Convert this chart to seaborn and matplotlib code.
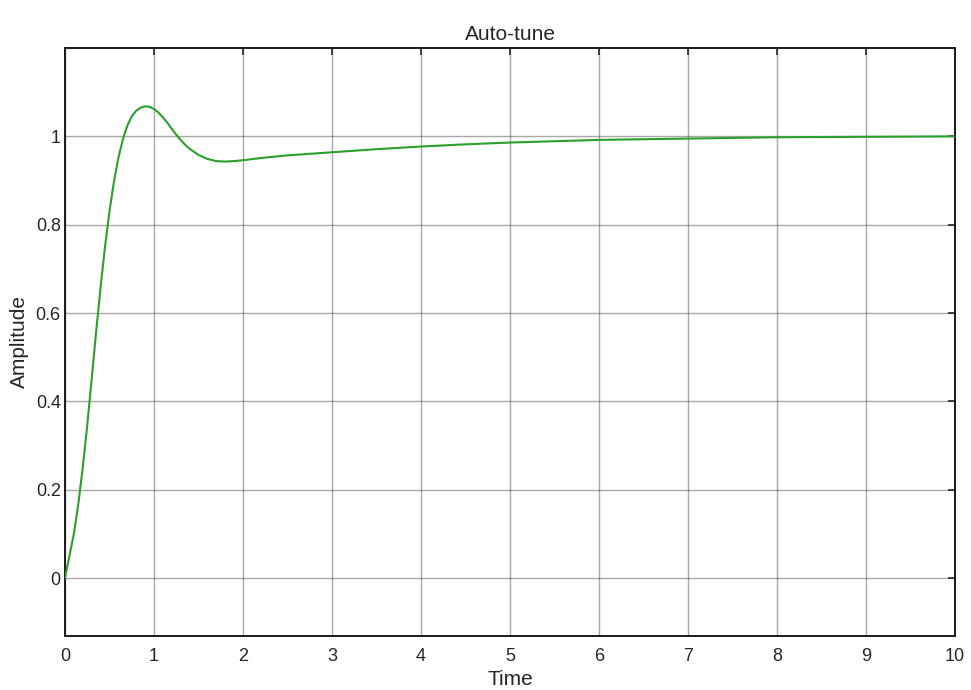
import matplotlib
matplotlib.use("Agg")
import matplotlib.pyplot as plt
import seaborn as sns
import pandas as pd

# Step response
time = [0, 0.05, 0.1, 0.15, 0.2, 0.25, 0.3, 0.35, 0.4, 0.45, 0.5, 0.55,
        0.6, 0.65, 0.7, 0.75, 0.8, 0.85, 0.9, 0.95, 1.0, 1.05, 1.1, 1.15,
        1.2, 1.25, 1.3, 1.35, 1.4, 1.5, 1.6, 1.7, 1.8, 1.9, 2.0, 2.25, 2.5,
        3.0, 3.5, 4.0, 4.5, 5.0, 5.5, 6.0, 7.0, 8.0, 9.0, 10.0]
amplitude = [0.0, 0.05, 0.1, 0.168, 0.25, 0.345, 0.45, 0.557, 0.658, 0.75,
             0.83, 0.897, 0.951, 0.993, 1.024, 1.045, 1.058, 1.065, 1.068,
             1.067, 1.062, 1.054, 1.043, 1.031, 1.017, 1.004, 0.992, 0.981,
             0.972, 0.958, 0.949, 0.944, 0.943, 0.944, 0.946, 0.952, 0.957,
             0.964, 0.971, 0.977, 0.982, 0.986, 0.989, 0.992, 0.995, 0.998,
             0.999, 1.0]
x_ticks = [0, 1, 2, 3, 4, 5, 6, 7, 8, 9, 10]
y_ticks = [0, 0.2, 0.4, 0.6, 0.8, 1.0]
y_tick_labels = ["0", "0.2", "0.4", "0.6", "0.8", "1"]

df = pd.DataFrame({"Time": time, "Amplitude": amplitude})

sns.set_style("white")
plt.rcParams["font.family"] = ["Liberation Sans", "DejaVu Sans"]

fig = plt.figure(figsize=(9.71, 6.90), dpi=100)
ax = fig.add_axes([0.0669, 0.0783, 0.9166, 0.8521])

sns.lineplot(data=df, x="Time", y="Amplitude", ax=ax, color="#2ca02c",
             linewidth=1.5, zorder=3)

ax.set_xlim(0, 10)
ax.set_ylim(-0.131, 1.2)
ax.set_xticks(x_ticks)
ax.set_xticklabels([str(v) for v in x_ticks])
ax.set_yticks(y_ticks)
ax.set_yticklabels(y_tick_labels)

ax.grid(True, color="#262626", alpha=0.4, linewidth=1.0, zorder=1)
ax.tick_params(direction="in", length=5, width=1.2, top=True, right=True,
               labelsize=13, colors="#262626")
ax.tick_params(axis="x", pad=9)
ax.tick_params(axis="y", pad=3)
for s in ax.spines.values():
    s.set_linewidth(1.4)
    s.set_color("#1a1a1a")
    s.set_visible(True)

ax.set_title("Auto-tune", fontsize=15, color="#262626", pad=6)
ax.set_xlabel("Time", fontsize=15, color="#262626", labelpad=3)
ax.set_ylabel("Amplitude", fontsize=15, color="#262626", labelpad=5)

fig.savefig("out.png", dpi=100)
